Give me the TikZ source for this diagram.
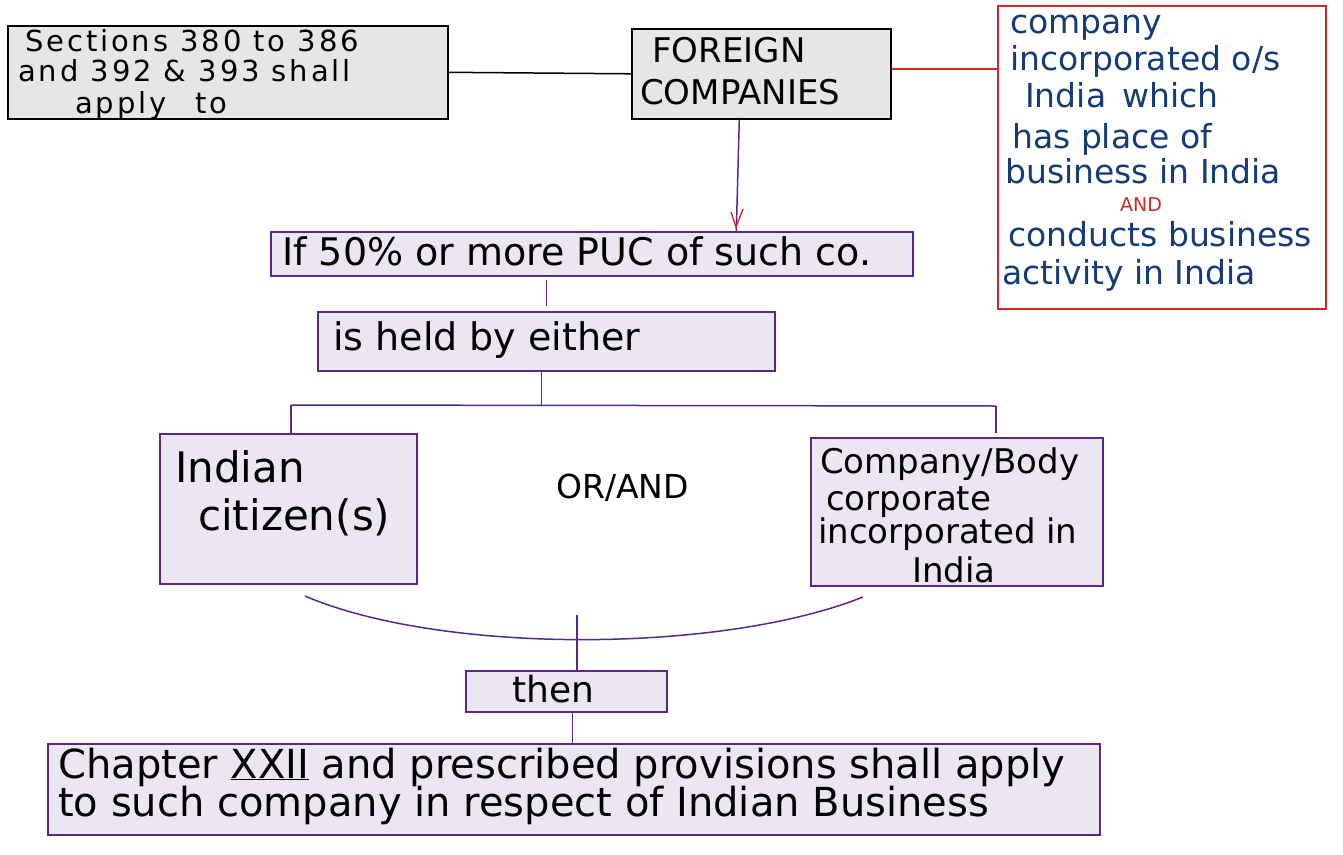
\documentclass[tikz,border=0pt]{standalone}
\usepackage{fontspec}
\setmainfont{DejaVu Sans}
\definecolor{boxgray}{RGB}{230,230,230}
\definecolor{lav}{RGB}{235,230,241}
\definecolor{purp}{RGB}{88,40,140}
\definecolor{redl}{RGB}{210,40,40}
\definecolor{inkblue}{RGB}{20,60,120}
\begin{document}
\begin{tikzpicture}[x=1pt,y=-1pt,
  gbox/.style={draw=black, line width=1.6pt, fill=boxgray, inner sep=0pt, anchor=north west},
  pbox/.style={draw=purp, line width=1.6pt, fill=lav, inner sep=0pt, anchor=north west},
  rbox/.style={draw=redl, line width=1.5pt, fill=white, inner sep=0pt, anchor=north west},
  txt/.style={inner sep=0pt, anchor=base west},
  pl/.style={draw=purp, line width=1.5pt},
  bl/.style={draw=black, line width=1.5pt},
  rl/.style={draw=redl, line width=1.4pt}]
\useasboundingbox (0,0) rectangle (1343,854);
% boxes
\node[gbox, minimum width=440pt, minimum height=93pt] (sec) at (7,25) {};
\node[gbox, minimum width=259pt, minimum height=90pt] (fc) at (631,28) {};
\node[rbox, minimum width=328pt, minimum height=303pt] (rb) at (997,5) {};
\node[pbox, minimum width=642pt, minimum height=44pt] (ifb) at (270,231) {};
\node[pbox, minimum width=457pt, minimum height=59pt] (held) at (317,311) {};
\node[pbox, minimum width=257pt, minimum height=150pt] (ic) at (159,433) {};
\node[pbox, minimum width=292pt, minimum height=148pt] (cb) at (810,437) {};
\node[pbox, minimum width=201pt, minimum height=41pt] (thn) at (465,670) {};
\node[pbox, minimum width=1052pt, minimum height=91pt] (ch) at (47,743) {};
% texts
\begin{scope}[every node/.append style={font=\fontsize{29}{32}\selectfont\addfontfeature{LetterSpace=10}}]
\node[txt] (s1) at (25,51) {Sections 380 to 386};
\node[txt] (s2) at (18,81) {and 392 \& 393 shall};
\node[txt] (s3) at (75,113) {apply\quad to};
\end{scope}
\begin{scope}[every node/.append style={font=\fontsize{34}{38}\selectfont}]
\node[txt] (f1) at (652,62) {FOREIGN};
\node[txt] (f2) at (640,104) {COMPANIES};
\end{scope}
\begin{scope}[every node/.append style={font=\fontsize{33}{36}\selectfont, text=inkblue}]
\node[txt] (r1) at (1010,33) {company};
\node[txt] (r2) at (1010,70) {incorporated o/s};
\node[txt] (r3) at (1025,107) {India\enspace which};
\node[txt] (r4) at (1012,148) {has place of};
\node[txt] (r5) at (1005,183) {business in India};
\node[txt] (r7) at (1008,246) {conducts business};
\node[txt] (r8) at (1002,284) {activity in India};
\end{scope}
\node[txt, font=\fontsize{19}{22}\selectfont, text=redl] (r6) at (1120,211) {AND};
\node[txt, font=\fontsize{38}{42}\selectfont] (i1) at (282,265) {If 50\% or more PUC of such co.};
\node[txt, font=\fontsize{38}{42}\selectfont] (h1) at (333,350) {is held by either};
\begin{scope}[every node/.append style={font=\fontsize{42}{46}\selectfont}]
\node[txt] (c1) at (175,482) {Indian};
\node[txt] (c2) at (198,530) {citizen(s)};
\end{scope}
\begin{scope}[every node/.append style={font=\fontsize{34}{38}\selectfont}]
\node[txt] (b1) at (820,473) {Company/Body};
\node[txt] (b2) at (826,510) {corporate};
\node[txt] (b3) at (818,543) {incorporated in};
\node[txt] (b4) at (912,582) {India};
\end{scope}
\node[txt, font=\fontsize{33}{36}\selectfont] (oa) at (556,498) {OR/AND};
\node[txt, font=\fontsize{36}{40}\selectfont] (t1) at (512,702) {then};
\begin{scope}[every node/.append style={font=\fontsize{40}{44}\selectfont}]
\node[txt] (k1) at (58,778) {Chapter \underline{XXII} and prescribed provisions shall apply};
\node[txt] (k2) at (58,816) {to such company in respect of Indian Business};
\end{scope}
% connectors
\draw[bl] (sec.east) -- (fc.west);
\draw[rl] ([yshift=5pt]fc.east) -- ([yshift=5pt]fc.east -| rb.west);
\draw[pl] ([xshift=-22pt]fc.south) -- ([xshift=-25pt]fc.south |- ifb.north);
\draw[rl] (731,212) -- (736,227) -- (743,209);
\draw[pl] ([yshift=-3pt]ifb.south -| held.north) -- ([yshift=5pt]held.north);
\coordinate (bl) at (291,405);
\coordinate (br) at (996,406);
\draw[pl] ([xshift=-5pt]held.south) -- ([xshift=-5pt]held.south |- bl);
\draw[pl] (bl) -- (br);
\draw[pl] (bl) -- (bl |- ic.north);
\draw[pl] (br) -- ([yshift=4pt]br |- cb.north);
\coordinate (al) at (305,596);
\coordinate (ar) at (863,597);
\draw[pl] (al) .. controls (440,654) and (720,654) .. (ar);
\coordinate (m) at (577,615);
\draw[pl] (m) -- (m |- thn.north);
\draw[pl] ([xshift=6pt]thn.south) -- ([xshift=6pt]thn.south |- ch.north);
\end{tikzpicture}
\end{document}
